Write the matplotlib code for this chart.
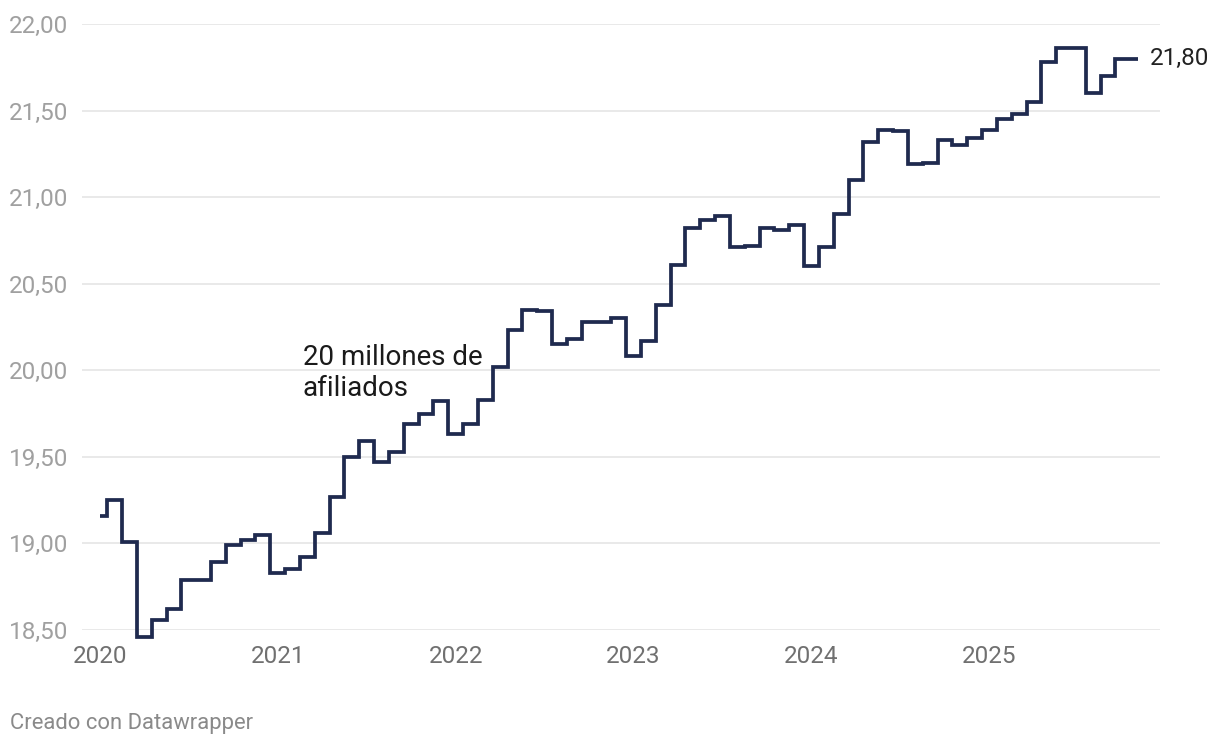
import matplotlib.pyplot as plt

plt.rcParams['font.family'] = ['Roboto', 'DejaVu Sans']

# afiliados (millones), mensual de enero 2020 a noviembre 2025
valores_2020 = [19.16, 19.25, 19.01, 18.46, 18.56, 18.62, 18.79, 18.79, 18.89, 18.99, 19.02, 19.05]
valores_2021 = [18.83, 18.85, 18.92, 19.06, 19.27, 19.50, 19.59, 19.47, 19.53, 19.69, 19.75, 19.82]
valores_2022 = [19.63, 19.69, 19.83, 20.02, 20.23, 20.35, 20.34, 20.15, 20.18, 20.28, 20.28, 20.30]
valores_2023 = [20.08, 20.17, 20.38, 20.61, 20.82, 20.87, 20.89, 20.71, 20.72, 20.82, 20.81, 20.84]
valores_2024 = [20.60, 20.71, 20.90, 21.10, 21.32, 21.39, 21.38, 21.19, 21.20, 21.33, 21.30, 21.34]
valores_2025 = [21.39, 21.45, 21.48, 21.55, 21.78, 21.86, 21.86, 21.60, 21.70, 21.80, 21.80]

anios = ['2020', '2021', '2022', '2023', '2024', '2025']
y_ticks = [18.5, 19.0, 19.5, 20.0, 20.5, 21.0, 21.5, 22.0]

valores = valores_2020 + valores_2021 + valores_2022 + valores_2023 + valores_2024 + valores_2025
meses = list(range(len(valores)))


def main():
    fig = plt.figure(figsize=(12.2, 7.46), dpi=100)
    ax = fig.add_axes([0.0672, 0.1555, 0.8836, 0.8123])

    ax.step(meses, valores, where='mid', color='#1f2a4f', linewidth=2.7,
            solid_joinstyle='miter', solid_capstyle='butt', clip_on=False, zorder=3)

    ax.set_xlim(-1.2, 71.5)
    ax.set_ylim(18.5, 22.0)

    ax.set_yticks(y_ticks)
    ax.set_yticklabels([('%.2f' % v).replace('.', ',') for v in y_ticks])
    ax.set_xticks([12 * i for i in range(len(anios))])
    ax.set_xticklabels(anios)

    ax.grid(axis='y', color='#e3e3e3', linewidth=1.1)
    ax.set_axisbelow(True)
    for s in ax.spines.values():
        s.set_visible(False)

    ax.tick_params(axis='y', length=0, pad=10, labelsize=17.5, labelcolor='#a0a0a0')
    ax.tick_params(axis='x', length=0, pad=11, labelsize=17.5, labelcolor='#707070')
    for lab in ax.get_yticklabels():
        lab.set_ha('right')

    # etiqueta del último valor
    ax.text(meses[-1] + 0.8, valores[-1], ('%.2f' % valores[-1]).replace('.', ','),
            fontsize=17.5, color='#222222', va='center', ha='left', clip_on=False)

    # anotación
    ax.text(13.7, 19.985, '20 millones de\nafiliados', fontsize=20, color='#1a1a1a',
            va='center', ha='left', linespacing=1.18)

    fig.text(10 / 1220, 1 - 724 / 746, 'Creado con Datawrapper', fontsize=15.8,
             color='#8a8a8a', va='center', ha='left')

    fig.savefig('out.png', dpi=100, facecolor='white')


if __name__ == '__main__':
    main()
